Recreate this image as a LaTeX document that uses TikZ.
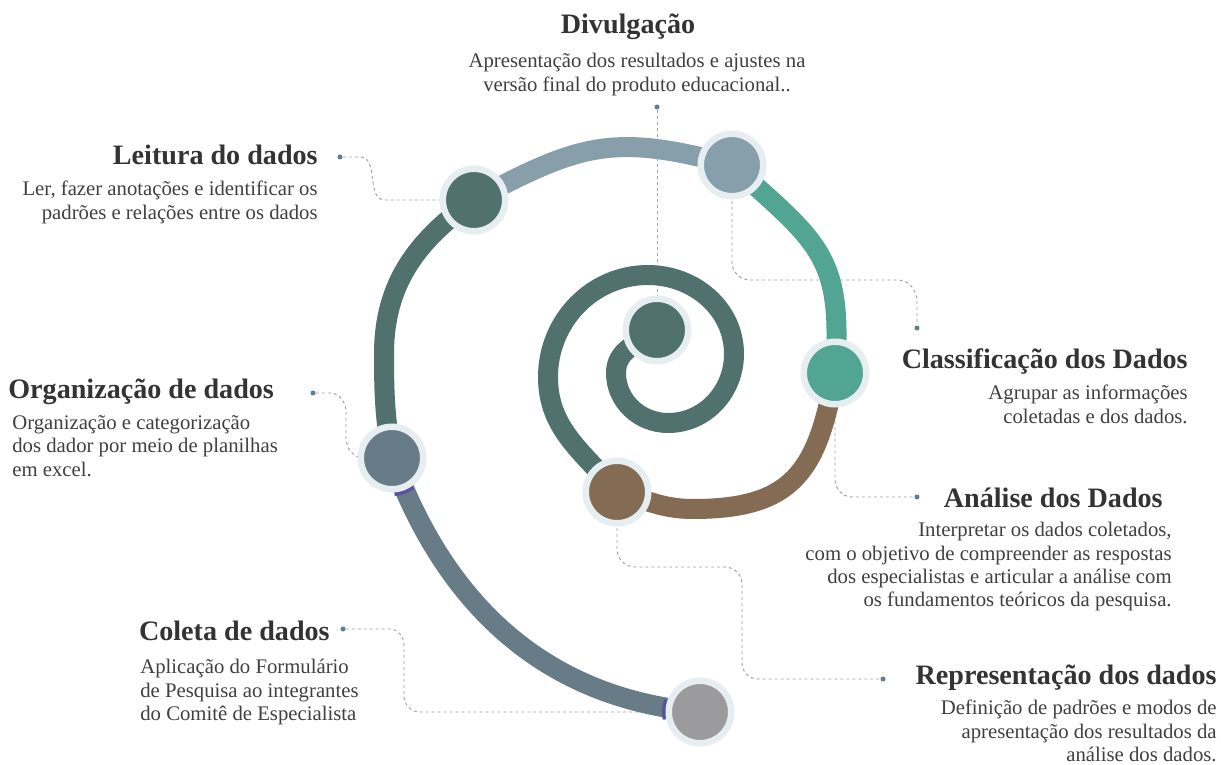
\documentclass[tikz,border=0pt]{standalone}
\usepackage{fontspec}
\setmainfont{Liberation Serif}
\usetikzlibrary{calc}

\definecolor{darkteal}{HTML}{50716E}
\definecolor{greyblue}{HTML}{869FAB}
\definecolor{greenteal}{HTML}{52A592}
\definecolor{brownish}{HTML}{846C54}
\definecolor{slate}{HTML}{687C88}
\definecolor{lightgrey}{HTML}{9B9B9D}
\definecolor{ringcol}{HTML}{E7EEF1}
\definecolor{linkcol}{HTML}{98A3AB}
\definecolor{dotcol}{HTML}{5F7D91}
\definecolor{titlecol}{HTML}{333333}
\definecolor{desccol}{HTML}{404040}
\definecolor{purplebit}{HTML}{5A50A0}

\begin{document}
\begin{tikzpicture}[x=0.2mm, y=0.2mm]
  \tikzstyle{band}=[line width=4mm, line cap=butt]
  \tikzstyle{stage}=[circle, draw=ringcol, line width=1.3mm, minimum size=12.5mm, inner sep=0pt]
  \tikzstyle{dot}=[circle, fill=dotcol, minimum size=1mm, inner sep=0pt]
  \tikzstyle{link}=[draw=linkcol, line width=0.55pt, dash pattern=on 1.7pt off 1.7pt]
  \tikzstyle{title}=[font=\fontsize{16}{19}\selectfont\bfseries, text=titlecol, inner sep=0pt]
  \tikzstyle{desc}=[font=\fontsize{11.8}{13.3}\selectfont, text=desccol, inner sep=0pt]

  \fill[white] (0,0) rectangle (1221,764);
  \useasboundingbox (0,0) rectangle (1221,764);

  % stages on the spiral
  \coordinate (s0) at (657,434);
  \coordinate (s1) at (617,272);
  \coordinate (s2) at (835,391);
  \coordinate (s3) at (732,599);
  \coordinate (s4) at (474,564);
  \coordinate (s5) at (392,306);
  \coordinate (s6) at (700,52);

  % dots next to the titles
  \node[dot] (d1) at (657,657) {};
  \node[dot] (d2) at (340,607) {};
  \node[dot] (d3) at (313,371) {};
  \node[dot] (d4) at (343,135) {};
  \node[dot] (d5) at (917,436) {};
  \node[dot] (d6) at (917,267) {};
  \node[dot] (d7) at (883,85) {};

  % dashed leaders
  \draw[link] (d1) -- (s0);
  \draw[link] (d2) -- (360,607) to[out=0,in=180] (385,564) -- (s4);
  \draw[link] (d3) -- (330,371) to[out=0,in=90] (346,352) -- (346,326) to[out=270,in=180] (364,306) -- (s5);
  \draw[link] (d4) -- (390,135) to[out=0,in=90] (404,118) -- (404,68) to[out=270,in=180] (420,52) -- (s6);
  \draw[link] (s3) -- (732,502) to[out=270,in=180] (750,484) -- (898,484) to[out=0,in=90] (917,462) -- (d5);
  \draw[link] (s2) -- (835,285) to[out=270,in=180] (852,267) -- (d6);
  \draw[link] (s1) -- (617,215) to[out=270,in=180] (635,197) -- (725,197) to[out=0,in=90] (742,180) -- (742,101) to[out=270,in=180] (758,85) -- (d7);

  % spiral
  \draw[band, darkteal] (s0) to[out=215,in=90] (616,391) to[out=270,in=180] (668,341)
    to[out=0,in=270] (734,410) to[out=90,in=0] (648,489) to[out=180,in=90] (548,387)
    to[out=270,in=130] (s1);
  \draw[band, brownish] (s1) to[out=-15,in=180] (693,255) to[out=0,in=260,looseness=1.3] (s2);
  \draw[band, greenteal] (s2) to[out=86,in=318,looseness=1.3] (s3);
  \draw[band, greyblue] (s3) to[out=165,in=28,looseness=1.2] (s4);
  \draw[band, darkteal] (s4) to[out=215,in=90] (384,410) to[out=270,in=100] (s5);
  \draw[band, slate] (s5) to[out=290,in=175] (s6);
  \draw[purplebit, line width=0.8mm] ($(s5)+(274:36)$) arc[start angle=274, end angle=306, radius=7.2mm];
  \draw[purplebit, line width=0.8mm] ($(s6)+(160:36)$) arc[start angle=160, end angle=192, radius=7.2mm];

  \node[stage, fill=darkteal] (c0) at (s0) {};
  \node[stage, fill=brownish] (c1) at (s1) {};
  \node[stage, fill=greenteal] (c2) at (s2) {};
  \node[stage, fill=greyblue] (c3) at (s3) {};
  \node[stage, fill=darkteal] (c4) at (s4) {};
  \node[stage, fill=slate] (c5) at (s5) {};
  \node[stage, fill=lightgrey] (c6) at (s6) {};

  % texts
  \node[title, anchor=base] (t1) at (628,730) {Divulgação};
  \node[desc, anchor=north, align=center] (x1) at (637,711) {Apresentação dos resultados e ajustes na\\versão final do produto educacional..};

  \node[title, anchor=base east] (t2) at (318,599) {Leitura do dados};
  \node[desc, anchor=north east, align=right] (x2) at (318,583) {Ler, fazer anotações e identificar os\\padrões e relações entre os dados};

  \node[title, anchor=base west] (t3) at (8,366) {Organização de dados};
  \node[desc, anchor=north west, align=left] (x3) at (12,349) {Organização e categorização\\dos dador por meio de planilhas\\em excel.};

  \node[title, anchor=base east] (t4) at (330,124) {Coleta de dados};
  \node[desc, anchor=north west, align=left] (x4) at (140,105) {Aplicação do Formulário\\de Pesquisa ao integrantes\\do Comitê de Especialista};

  \node[title, anchor=base east] (t5) at (1188,396) {Classificação dos Dados};
  \node[desc, anchor=north east, align=right] (x5) at (1188,379) {Agrupar as informações\\coletadas e dos dados.};

  \node[title, anchor=base east] (t6) at (1163,257) {Análise dos Dados};
  \node[desc, anchor=north east, align=right] (x6) at (1172,242) {Interpretar os dados coletados,\\com o objetivo de compreender as respostas\\dos especialistas e articular a análise com\\os fundamentos teóricos da pesquisa.};

  \node[title, anchor=base east] (t7) at (1217,80) {Representação dos dados};
  \node[desc, anchor=north east, align=right] (x7) at (1217,64) {Definição de padrões e modos de\\apresentação dos resultados da\\análise dos dados.};
\end{tikzpicture}
\end{document}
